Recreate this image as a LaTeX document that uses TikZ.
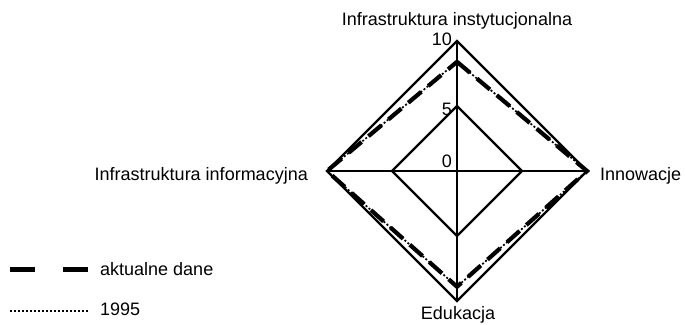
\documentclass[tikz,border=0pt]{standalone}
\usepackage{fontspec}
\setmainfont{Liberation Sans}
\usetikzlibrary{calc,positioning}
\definecolor{spInk}{HTML}{000000}
\tikzset{
 spider/.style={font=\fontsize{18}{20}\selectfont,text=spInk,line join=miter},
 rim/.style={draw=spInk,line width=2.4pt},
 spoke/.style={draw=spInk,line width=1.2pt},
 nowData/.style={draw=spInk,line width=4.2pt,dash pattern=on 17pt off 9pt},
 oldData/.style={draw=spInk,line width=1.7pt,dash pattern=on 2pt off 2pt},
 nowKey/.style={draw=spInk,line width=5pt,dash pattern=on 25pt off 28pt},
 oldKey/.style={draw=spInk,line width=1.5pt,dash pattern=on 1.6pt off 2.4pt},
 axisname/.style={inner sep=0pt},
 tick/.style={inner sep=0pt,anchor=base east},
 keytext/.style={inner sep=0pt,anchor=base west}
}

\begin{document}
\begin{tikzpicture}[spider,x=1pt,y=-1pt]
 \useasboundingbox (0,0) rectangle (685,324);
 \coordinate (c) at (457,171);
 \coordinate (n) at (457,41);
 \coordinate (e) at (587,171);
 \coordinate (s) at (457,301);
 \coordinate (w) at (327,171);
 % spokes and scale rings
 \draw[spoke] (n)--(s);
 \draw[spoke] (w)--(e);
 \draw[rim] (n)--(e)--(s)--(w)--cycle;
 \draw[rim] ($(c)!.5!(n)$)--($(c)!.5!(e)$)--($(c)!.5!(s)$)--($(c)!.5!(w)$)--cycle;
 % both series
 \foreach \st in {oldData,nowData}
  \draw[\st] ($(c)!.84!(n)$)--(e)--($(c)!.89!(s)$)--(w)--cycle;
 \node[tick] (t10) at (452,45) {10};
 \node[tick] (t5) at (452,115) {5};
 \node[tick] (t0) at (452,167) {0};
 \node[axisname,anchor=base] (an) at (457,25) {Infrastruktura instytucjonalna};
 \node[axisname,anchor=base west] (ae) at (600,180) {Innowacje};
 \node[axisname,anchor=base] (as) at (458,319) {Edukacja};
 \node[axisname,anchor=base east] (aw) at (308,180) {Infrastruktura informacyjna};
 % legend
 \coordinate (k1a) at (10,269);
 \coordinate (k1b) at (88,269);
 \coordinate (k2a) at (10,311);
 \coordinate (k2b) at (88,311);
 \draw[nowKey] (k1a)--(k1b);
 \draw[oldKey] (k2a)--(k2b);
 \node[keytext] (k1t) at (100,275) {aktualne dane};
 \node[keytext] (k2t) at (100,315) {1995};
\end{tikzpicture}
\end{document}
